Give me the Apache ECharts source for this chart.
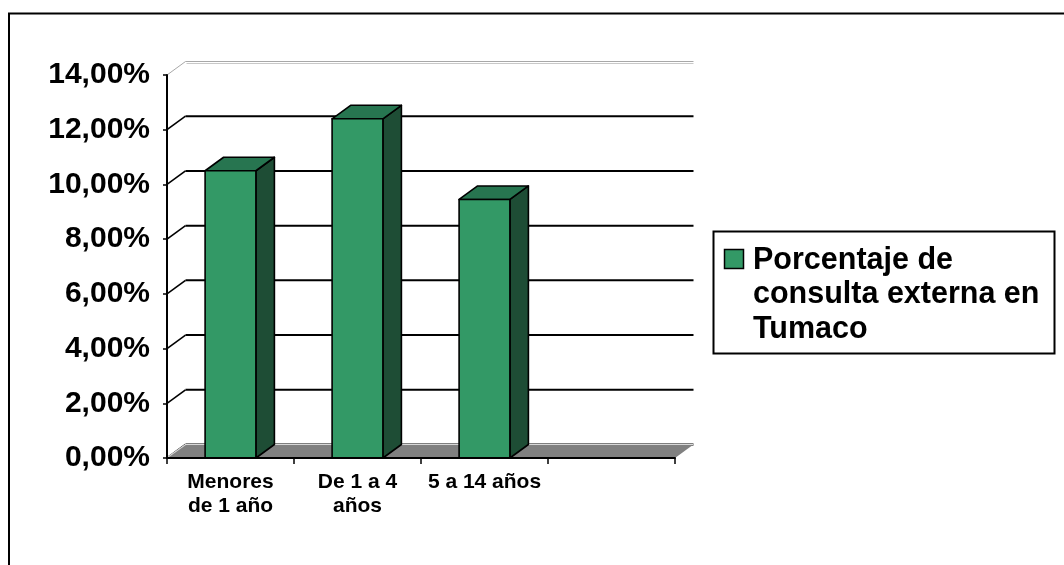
<!DOCTYPE html>
<html>
<head>
<meta charset="utf-8">
<script src="https://cdn.jsdelivr.net/npm/echarts@6/dist/echarts.min.js"></script>
<style>
  html, body { margin: 0; padding: 0; background: #ffffff; }
  #chart { width: 1064px; height: 565px; }
</style>
</head>
<body>
<div id="chart"></div>
<script>
// Age groups on the category axis (last slot is an empty category)
const categories = ['Menores\nde 1 año', 'De 1 a 4\naños', '5 a 14 años', ''];
const seriesName = 'Porcentaje de consulta externa en Tumaco';
const legendLines = ['Porcentaje de', 'consulta externa en', 'Tumaco'];
// Share of outpatient consultations per age group
const values = [0.105, 0.124, 0.0945];
// Value axis ticks
const yTicks = [0, 0.02, 0.04, 0.06, 0.08, 0.10, 0.12, 0.14];

// Depth offset of the pseudo-3D box (pixels)
const DX = 18.5, DY = -13.5;
const FRONT = '#339966', TOP = '#277550', SIDE = '#1e4d35';
const FONT = "'Liberation Sans', Arial, sans-serif";

const chart = echarts.init(document.getElementById('chart'), null, { renderer: 'canvas' });

function fmtPct(v) {
  return (v * 100).toFixed(2).replace('.', ',') + '%';
}

// Back wall gridlines and the diagonal links from the front axis ticks
function renderWall(params, api) {
  const cs = params.coordSys;
  const v = api.value(1);
  const y = api.coord([0, v])[1];
  const left = cs.x;
  const isTop = v >= yTicks[yTicks.length - 1] - 1e-9;
  const col = isTop ? '#a8a8a8' : '#000000';
  const children = [
    { type: 'line', shape: { x1: left, y1: y, x2: left + DX, y2: y + DY },
      style: { stroke: col, lineWidth: isTop ? 1 : 1.6 } },
    { type: 'line', shape: { x1: left + DX, y1: y + DY, x2: left + cs.width + DX, y2: y + DY },
      style: { stroke: col, lineWidth: isTop ? 1 : 2 } }
  ];
  if (isTop) {
    children.push({ type: 'line', shape: { x1: left + DX + 1, y1: y + DY + 2, x2: left + cs.width + DX, y2: y + DY + 2 },
      style: { stroke: '#c8c8c8', lineWidth: 1 } });
  }
  return { type: 'group', children: children };
}

// Grey floor under the columns
function renderFloor(params, api) {
  const cs = params.coordSys;
  const yb = api.coord([0, 0])[1];
  const x0 = cs.x, x1 = cs.x + cs.width;
  return {
    type: 'group',
    children: [
      { type: 'polygon', shape: { points: [[x0, yb], [x1, yb], [x1 + DX, yb + DY], [x0 + DX, yb + DY]] },
        style: { fill: '#808080', stroke: null } },
      { type: 'polyline', shape: { points: [[x0 + 1, yb - 1], [x0 + DX, yb + DY], [x1 + DX, yb + DY]] },
        style: { stroke: '#d8d8d8', lineWidth: 1.2, fill: null } }
    ]
  };
}

// Columns drawn as front face, top face and right side face
function renderBar(params, api) {
  const idx = api.value(0);
  const v = api.value(1);
  const base = api.coord([idx, 0]);
  const topPt = api.coord([idx, v]);
  const bw = api.size([1, 0])[0] * 0.4;
  const x0 = base[0] - bw / 2, x1 = base[0] + bw / 2;
  const yb = base[1], yt = topPt[1];
  const edge = { stroke: '#000000', lineWidth: 1.6, lineJoin: 'round' };
  return {
    type: 'group',
    children: [
      { type: 'polygon', shape: { points: [[x1, yt], [x1 + DX, yt + DY], [x1 + DX, yb + DY], [x1, yb]] },
        style: Object.assign({ fill: SIDE }, edge) },
      { type: 'polygon', shape: { points: [[x0, yt], [x1, yt], [x1 + DX, yt + DY], [x0 + DX, yt + DY]] },
        style: Object.assign({ fill: TOP }, edge) },
      { type: 'rect', shape: { x: x0, y: yt, width: bw, height: yb - yt },
        style: Object.assign({ fill: FRONT }, edge) }
    ]
  };
}

const option = {
  backgroundColor: '#ffffff',
  animation: false,
  grid: { left: 167, top: 75, width: 508, height: 383, containLabel: false },
  xAxis: {
    type: 'category',
    data: categories,
    z: 5,
    axisLine: { show: true, lineStyle: { color: '#000', width: 2 } },
    axisTick: { show: true, alignWithLabel: false, length: 6, lineStyle: { color: '#000', width: 1.5 } },
    axisLabel: {
      show: true, interval: 0, margin: 12, color: '#000',
      fontFamily: FONT, fontWeight: 'bold', fontSize: 21, lineHeight: 24
    },
    splitLine: { show: false }
  },
  yAxis: {
    type: 'value',
    min: 0, max: 0.14, interval: 0.02,
    z: 5,
    axisLine: { show: true, lineStyle: { color: '#000', width: 2 } },
    axisTick: { show: true, inside: false, length: 4, lineStyle: { color: '#000', width: 1.5 } },
    axisLabel: {
      margin: 17, color: '#000', fontFamily: FONT, fontWeight: 'bold', fontSize: 30,
      formatter: fmtPct
    },
    splitLine: { show: false }
  },
  series: [
    { type: 'custom', name: 'wall', z: 1, silent: true,
      data: yTicks.map(v => [0, v]), renderItem: renderWall },
    { type: 'custom', name: 'floor', z: 2, silent: true,
      data: [[0, 0]], renderItem: renderFloor },
    { type: 'custom', name: seriesName, z: 3,
      data: values.map((v, i) => [i, v]), renderItem: renderBar,
      encode: { x: 0, y: 1 } }
  ],
  graphic: [
    { type: 'rect', z: 10, shape: { x: 9, y: 13.5, width: 1080, height: 580 },
      style: { fill: null, stroke: '#000', lineWidth: 2 } },
    { type: 'rect', z: 10, shape: { x: 713.5, y: 231.5, width: 341, height: 122 },
      style: { fill: '#fff', stroke: '#000', lineWidth: 2 } },
    { type: 'rect', z: 11, shape: { x: 724.5, y: 249.5, width: 19, height: 19 },
      style: { fill: FRONT, stroke: '#000', lineWidth: 1.5 } },
    { type: 'text', z: 11, x: 753, y: 243,
      style: { text: legendLines.join('\n'), fill: '#000', font: 'bold 30.5px ' + FONT,
        lineHeight: 34.5, align: 'left', verticalAlign: 'top' } }
  ]
};

chart.setOption(option);
</script>
</body>
</html>
